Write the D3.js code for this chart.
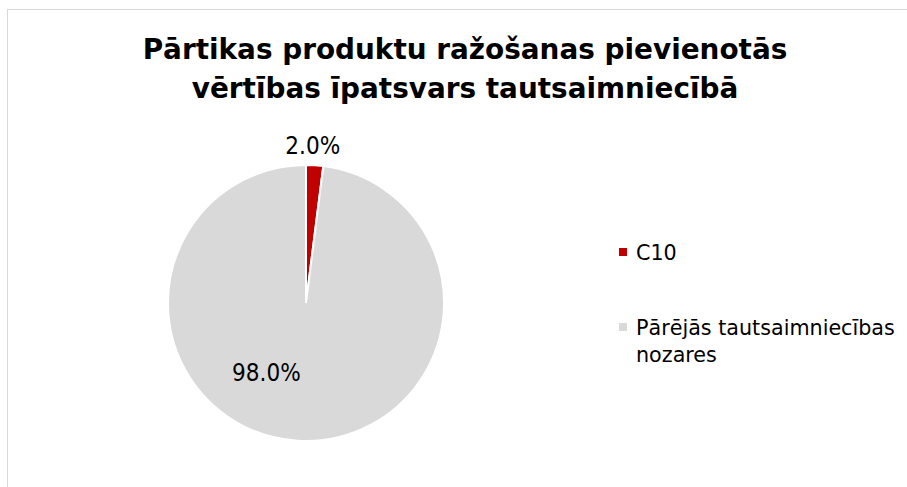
<!DOCTYPE html>
<html>
<head>
<meta charset="utf-8">
<script src="https://cdn.jsdelivr.net/npm/d3@7"></script>
<style>
  body { margin: 0; background: #fff; }
  svg text { font-family: "DejaVu Sans", sans-serif; fill: #000; }
  svg text.lbl { font-family: "DejaVu Sans Condensed", "DejaVu Sans", sans-serif; font-stretch: condensed; }
</style>
</head>
<body>
<div id="chart"></div>
<script>
// データ
const titleLines = ["Pārtikas produktu ražošanas pievienotās", "vērtības īpatsvars tautsaimniecībā"];
const categories = ["C10", "Pārējās tautsaimniecības nozares"];
const legendLines = [["C10"], ["Pārējās tautsaimniecības", "nozares"]];
const shares = [2.0, 98.0];
const colors = ["#c00000", "#d9d9d9"];

const width = 907, height = 487;
const cx = 306, cy = 303, radius = 138;

const svg = d3.select("#chart")
    .append("svg")
    .attr("width", width)
    .attr("height", height);

// 幅に合わせてフォントサイズを調整
function fitFont(sel, target) {
    const node = sel.select("tspan").node();
    const size = parseFloat(sel.style("font-size"));
    const w = node.getComputedTextLength();
    sel.style("font-size", (size * target / w).toFixed(2) + "px");
}

// 枠線
svg.append("rect")
    .attr("x", 7.5).attr("y", 9.5)
    .attr("width", 1000).attr("height", 1000)
    .attr("fill", "none")
    .attr("stroke", "#d9d9d9")
    .attr("stroke-width", 1);

// タイトル
const title = svg.append("text")
    .attr("text-anchor", "middle")
    .style("font-weight", "bold")
    .style("font-size", "28px");

title.selectAll("tspan")
    .data(titleLines)
    .enter()
    .append("tspan")
    .attr("x", 465)
    .attr("y", (d, i) => 59 + i * 39)
    .text(d => d);

fitFont(title, 645);

// パイ
const pie = d3.pie().sort(null).value(d => d);
const arcs = pie(shares);
const arc = d3.arc().innerRadius(0).outerRadius(radius);

const g = svg.append("g").attr("transform", `translate(${cx},${cy})`);

g.selectAll("path")
    .data(arcs)
    .enter()
    .append("path")
    .attr("d", arc)
    .attr("fill", (d, i) => colors[i])
    .attr("stroke", "#fff")
    .attr("stroke-width", 2);

// ラベル位置 (Excel の best fit 風)
const labelPlacement = [
    { angle: d => (d.startAngle + d.endAngle) / 2 - 0.02, r: radius + 20 },
    { angle: d => 3.66, r: 80 }
];

g.selectAll("text.lbl")
    .data(arcs)
    .enter()
    .append("text")
    .attr("class", "lbl")
    .attr("text-anchor", "middle")
    .attr("dy", "0.35em")
    .style("font-size", "24px")
    .attr("x", (d, i) => Math.sin(labelPlacement[i].angle(d)) * labelPlacement[i].r)
    .attr("y", (d, i) => -Math.cos(labelPlacement[i].angle(d)) * labelPlacement[i].r)
    .text(d => d3.format(".1f")(d.data) + "%");

// 凡例
const legend = svg.append("g").attr("transform", "translate(619,0)");
const legendY = [248, 323];

legend.selectAll("rect")
    .data(categories)
    .enter()
    .append("rect")
    .attr("x", 0)
    .attr("y", (d, i) => legendY[i])
    .attr("width", 8)
    .attr("height", 8)
    .attr("fill", (d, i) => colors[i]);

const legendText = legend.append("g").style("font-size", "20px");

legendText.selectAll("text")
    .data(legendLines)
    .enter()
    .append("text")
    .each(function(lines, i) {
        d3.select(this).selectAll("tspan")
            .data(lines)
            .enter()
            .append("tspan")
            .attr("x", 17)
            .attr("y", (d, j) => legendY[i] + 12 + j * 27)
            .text(d => d);
    });

// 2行目の凡例の幅に合わせる
const longest = legendText.selectAll("text").filter((d, i) => i === 1);
const lw = longest.select("tspan").node().getComputedTextLength();
legendText.style("font-size", (20 * 259 / lw).toFixed(2) + "px");
</script>
</body>
</html>
